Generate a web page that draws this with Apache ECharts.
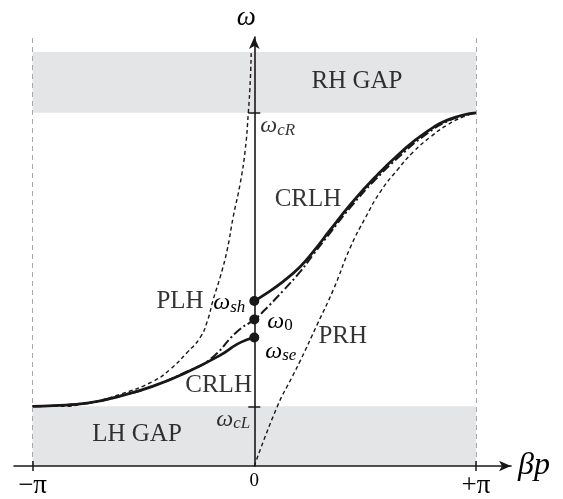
<!DOCTYPE html>
<html><head><meta charset="utf-8">
<script src="https://cdn.jsdelivr.net/npm/echarts/dist/echarts.min.js"></script>
<style>html,body{margin:0;padding:0;background:#fff}#c{width:563px;height:499px}</style>
</head><body><div id="c"></div>
<script>
// x values in units of π (βp/π); y values in units of ωcR
const xTickValues = [-1, 0, 1];
const xTickLabels = ['−π', '0', '+π'];
const omegaCL = 0.169;
const omegaCR = 1.0;
const gapTop = 1.172;
const omegaMarks = [0.467, 0.415, 0.364];        // ωsh, ω0, ωse
const omegaMarkNames = ['sh', '0', 'se'];

const crlhLowX = [-1.000, -0.907, -0.754, -0.605, -0.456, -0.302, -0.153, -0.077, -0.027, 0];
const crlhLowY = [0.169, 0.171, 0.178, 0.198, 0.226, 0.266, 0.314, 0.345, 0.359, 0.364];

const crlhHighX = [0, 0.041, 0.131, 0.208, 0.266, 0.343, 0.433, 0.542, 0.659, 0.772, 0.885, 1.0];
const crlhHighY = [0.467, 0.483, 0.523, 0.565, 0.607, 0.669, 0.740, 0.816, 0.887, 0.944, 0.983, 1.0];

const balancedX = [-1, -0.754, -0.605, -0.456, -0.302, -0.199, -0.077, 0, 0.041, 0.131, 0.208, 0.266, 0.343, 0.433, 0.546, 0.659, 0.772, 0.885, 1.0];
const balancedY = [0.169, 0.178, 0.198, 0.226, 0.268, 0.302, 0.381, 0.415, 0.438, 0.497, 0.551, 0.599, 0.661, 0.732, 0.811, 0.879, 0.938, 0.980, 1.0];

const plhX = [-1, -0.876, -0.754, -0.605, -0.456, -0.379, -0.302, -0.244, -0.212, -0.185, -0.153, -0.122, -0.095, -0.063, -0.041, -0.027, -0.018, -0.014];
const plhY = [0.169, 0.169, 0.178, 0.203, 0.240, 0.274, 0.322, 0.364, 0.410, 0.472, 0.537, 0.613, 0.706, 0.802, 0.895, 1.0, 1.093, 1.169];

const prhX = [0, 0.104, 0.172, 0.208, 0.284, 0.357, 0.433, 0.501, 0.569, 0.646, 0.718, 0.795, 0.871, 0.944, 1.0];
const prhY = [0, 0.169, 0.254, 0.299, 0.401, 0.500, 0.619, 0.703, 0.777, 0.839, 0.890, 0.932, 0.966, 0.989, 1.0];

const regionTexts = ['RH GAP', 'LH GAP', 'CRLH', 'CRLH', 'PLH', 'PRH'];

const zip = (xs, ys) => xs.map((x, i) => [x, ys[i]]);
const INK = '#1a1718';
const TEXT = '#000000';
const SERIF = '"Liberation Serif", "DejaVu Serif", serif';

const omegaRich = {
  w: { fontFamily: SERIF, fontStyle: 'italic', fontSize: 24, color: TEXT, lineHeight: 30, verticalAlign: 'middle' },
  s: { fontFamily: SERIF, fontStyle: 'italic', fontSize: 17, color: TEXT, verticalAlign: 'bottom', padding: [0, 0, 2, 0] },
  n: { fontFamily: SERIF, fontSize: 17, color: TEXT, verticalAlign: 'bottom', padding: [0, 0, 2, 0] }
};
const omegaText = sub => '{w|ω}{' + (/^\d+$/.test(sub) ? 'n' : 's') + '|' + sub + '}';

const regionPos = [[0.463, 1.088], [-0.529, 0.089], [0.242, 0.754], [-0.161, 0.229], [-0.335, 0.466], [0.399, 0.367]];

const chart = echarts.init(document.getElementById('c'), null, { renderer: 'canvas' });
const lineBase = { type: 'line', showSymbol: false, smooth: 0.5, animation: false, z: 3 };

chart.setOption({
  animation: false,
  grid: { left: 14, right: 52, top: 37, bottom: 32 },
  xAxis: [{
    type: 'value', min: -1.0837, max: 1.1576, z: 8,
    axisLine: { onZero: true, symbol: ['none', 'arrow'], symbolSize: [8, 12], lineStyle: { color: INK, width: 1.6 } },
    axisTick: { show: true, customValues: [-1, 1], length: 5, lineStyle: { color: INK, width: 1.5 } },
    axisLabel: {
      customValues: xTickValues, margin: 6, color: TEXT, fontFamily: SERIF, fontSize: 27,
      formatter: v => { const i = xTickValues.indexOf(v); return i === 1 ? '{z|0}' : xTickLabels[i]; },
      rich: { z: { fontFamily: SERIF, fontSize: 19, color: TEXT } }
    },
    splitLine: { show: false },
    name: 'βp', nameLocation: 'end', nameGap: 7,
    nameTextStyle: { fontFamily: SERIF, fontStyle: 'italic', fontSize: 32, color: TEXT }
  }, {
    type: 'value', min: -1.0837, max: 1.1576, position: 'bottom', z: 8,
    axisLine: { show: false },
    axisTick: { show: true, inside: true, customValues: [-1, 1], length: 5, lineStyle: { color: INK, width: 1.5 } },
    axisLabel: { show: false }, splitLine: { show: false }
  }],
  yAxis: [{
    type: 'value', min: 0, max: 1.2147, position: 'left', z: 8,
    axisLine: { onZero: true, symbol: ['none', 'arrow'], symbolSize: [8, 12], lineStyle: { color: INK, width: 1.6 } },
    axisTick: { show: true, customValues: [omegaCL, omegaCR], length: 6, lineStyle: { color: INK, width: 1.5 } },
    axisLabel: { show: false }, splitLine: { show: false },
    name: 'ω', nameLocation: 'end', nameGap: 6,
    nameTextStyle: { fontFamily: SERIF, fontStyle: 'italic', fontSize: 27, color: TEXT, padding: [0, 16, 0, 0] }
  }, {
    type: 'value', min: 0, max: 1.2147, position: 'left', z: 8,
    axisLine: { show: false, onZero: true },
    axisTick: { show: true, inside: true, customValues: [omegaCL, omegaCR], length: 6, lineStyle: { color: INK, width: 1.5 } },
    axisLabel: { show: false }, splitLine: { show: false }
  }],
  series: [
    {
      type: 'line', data: [[-1, 0]], showSymbol: false, lineStyle: { opacity: 0 }, z: -1, silent: true,
      markArea: {
        silent: true, itemStyle: { color: '#e4e5e6' }, label: { show: false },
        data: [[{ xAxis: -1, yAxis: 0 }, { xAxis: 1, yAxis: omegaCL }],
               [{ xAxis: -1, yAxis: omegaCR }, { xAxis: 1, yAxis: gapTop }]]
      },
      markLine: {
        silent: true, symbol: 'none', label: { show: false },
        lineStyle: { color: '#a8a8a8', type: [5, 4], width: 1 },
        data: [{ xAxis: -1 }, { xAxis: 1 }]
      }
    },
    Object.assign({}, lineBase, { name: 'PLH', data: zip(plhX, plhY), lineStyle: { color: INK, width: 1.4, type: [4, 3] } }),
    Object.assign({}, lineBase, { name: 'PRH', data: zip(prhX, prhY), lineStyle: { color: INK, width: 1.4, type: [4, 3] } }),
    Object.assign({}, lineBase, { name: 'balanced', data: zip(balancedX, balancedY), lineStyle: { color: INK, width: 2, type: [9, 3, 2, 3] } }),
    Object.assign({}, lineBase, { name: 'CRLH low', data: zip(crlhLowX, crlhLowY), lineStyle: { color: INK, width: 2.8 } }),
    Object.assign({}, lineBase, { name: 'CRLH high', data: zip(crlhHighX, crlhHighY), lineStyle: { color: INK, width: 2.8 } }),
    {
      type: 'scatter', z: 9, symbolSize: 10, itemStyle: { color: INK, opacity: 1 }, clip: false,
      data: omegaMarks.map((v, i) => ({
        value: [0, v],
        label: {
          show: true, formatter: omegaText(omegaMarkNames[i]), rich: omegaRich,
          position: i === 0 ? 'left' : 'right',
          distance: i === 0 ? 4 : 8,
          offset: i === 2 ? [-2, 14] : [0, 2]
        }
      }))
    },
    {
      type: 'scatter', z: 9, symbolSize: 0, clip: false, silent: true,
      data: [
        { value: [0, omegaCR], label: { show: true, formatter: omegaText('cR'), rich: omegaRich, position: 'right', distance: 6, offset: [0, 13] } },
        { value: [0, omegaCL], label: { show: true, formatter: omegaText('cL'), rich: omegaRich, position: 'left', distance: 4, offset: [0, 13] } }
      ].concat(regionTexts.map((t, i) => ({
        value: regionPos[i],
        label: { show: true, position: 'inside', formatter: t, fontFamily: SERIF, fontSize: 25, color: TEXT }
      })))
    }
  ]
});
</script></body></html>
